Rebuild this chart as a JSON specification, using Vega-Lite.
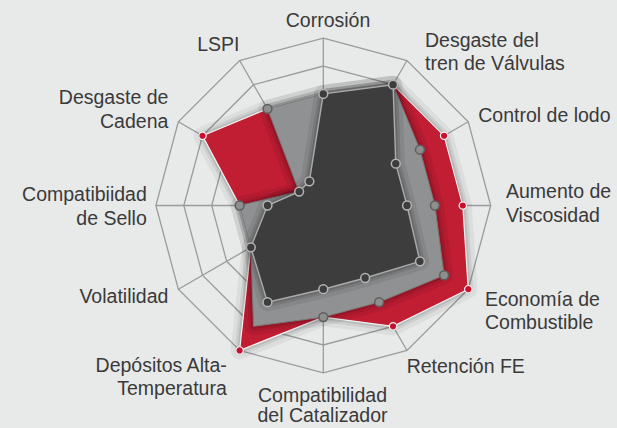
{
  "$schema": "https://vega.github.io/schema/vega-lite/v6.json",
  "width": 617,
  "height": 428,
  "autosize": {"type": "none"},
  "padding": 0,
  "background": "#e8e9e9",
  "config": {"view": {"stroke": null}},
  "datasets": {
    "axes": [
      {"i": 0, "axis": "Corrosión", "label": "Corrosión"},
      {"i": 1, "axis": "Desgaste del tren de Válvulas", "label": "Desgaste del\ntren de Válvulas"},
      {"i": 2, "axis": "Control de lodo", "label": "Control de lodo"},
      {"i": 3, "axis": "Aumento de Viscosidad", "label": "Aumento de\nViscosidad"},
      {"i": 4, "axis": "Economía de Combustible", "label": "Economía de\nCombustible"},
      {"i": 5, "axis": "Retención FE", "label": "Retención FE"},
      {"i": 6, "axis": "Compatibilidad del Catalizador", "label": "Compatibilidad\ndel Catalizador"},
      {"i": 7, "axis": "Depósitos Alta-Temperatura", "label": "Depósitos Alta-\nTemperatura"},
      {"i": 8, "axis": "Volatilidad", "label": "Volatilidad"},
      {"i": 9, "axis": "Compatibiidad de Sello", "label": "Compatibiidad\nde Sello"},
      {"i": 10, "axis": "Desgaste de Cadena", "label": "Desgaste de\nCadena"},
      {"i": 11, "axis": "LSPI", "label": "LSPI"}
    ],
    "rings": [
      {"ring": 1, "i": [0,1,2,3,4,5,6,7,8,9,10,11]},
      {"ring": 2, "i": [0,1,2,3,4,5,6,7,8,9,10,11]},
      {"ring": 3, "i": [0,1,2,3,4,5,6,7,8,9,10,11]},
      {"ring": 4, "i": [0,1,2,3,4,5,6,7,8,9,10,11]},
      {"ring": 5, "i": [0,1,2,3,4,5,6,7,8,9,10,11]},
      {"ring": 6, "i": [0,1,2,3,4,5,6,7,8,9,10,11]}
    ],
    "scores": [
      {"serie": "A", "i": 0, "value": 4}, {"serie": "A", "i": 1, "value": 5}, {"serie": "A", "i": 2, "value": 5},
      {"serie": "A", "i": 3, "value": 5}, {"serie": "A", "i": 4, "value": 6}, {"serie": "A", "i": 5, "value": 5},
      {"serie": "A", "i": 6, "value": 4}, {"serie": "A", "i": 7, "value": 6}, {"serie": "A", "i": 8, "value": 3},
      {"serie": "A", "i": 9, "value": 3}, {"serie": "A", "i": 10, "value": 5}, {"serie": "A", "i": 11, "value": 4},
      {"serie": "B", "i": 0, "value": 4}, {"serie": "B", "i": 1, "value": 5}, {"serie": "B", "i": 2, "value": 4},
      {"serie": "B", "i": 3, "value": 4}, {"serie": "B", "i": 4, "value": 5}, {"serie": "B", "i": 5, "value": 4},
      {"serie": "B", "i": 6, "value": 4}, {"serie": "B", "i": 7, "value": 5}, {"serie": "B", "i": 8, "value": 3},
      {"serie": "B", "i": 9, "value": 3}, {"serie": "B", "i": 10, "value": 1}, {"serie": "B", "i": 11, "value": 4},
      {"serie": "C", "i": 0, "value": 4}, {"serie": "C", "i": 1, "value": 5}, {"serie": "C", "i": 2, "value": 3},
      {"serie": "C", "i": 3, "value": 3}, {"serie": "C", "i": 4, "value": 4}, {"serie": "C", "i": 5, "value": 3},
      {"serie": "C", "i": 6, "value": 3}, {"serie": "C", "i": 7, "value": 4}, {"serie": "C", "i": 8, "value": 3},
      {"serie": "C", "i": 9, "value": 2}, {"serie": "C", "i": 10, "value": 1}, {"serie": "C", "i": 11, "value": 1}
    ]
  },
  "encoding": {
    "x": {"field": "x", "type": "quantitative", "scale": {"domain": [-11.588, 10.527], "nice": false, "zero": false}, "axis": null},
    "y": {"field": "y", "type": "quantitative", "scale": {"domain": [-7.975, 7.366], "nice": false, "zero": false}, "axis": null}
  },
  "layer": [
    {
      "data": {"name": "axes"},
      "transform": [
        {"calculate": "0", "as": "x"}, {"calculate": "0", "as": "y"},
        {"calculate": "6*sin(datum.i*PI/6)", "as": "x2"}, {"calculate": "6*cos(datum.i*PI/6)", "as": "y2"}
      ],
      "mark": {"type": "rule", "stroke": "#9b9b9b", "strokeWidth": 1.3},
      "encoding": {"x2": {"field": "x2"}, "y2": {"field": "y2"}}
    },
    {
      "data": {"name": "rings"},
      "transform": [
        {"flatten": ["i"]},
        {"calculate": "datum.ring*sin(datum.i*PI/6)", "as": "x"}, {"calculate": "datum.ring*cos(datum.i*PI/6)", "as": "y"}
      ],
      "mark": {"type": "line", "interpolate": "linear-closed", "stroke": "#9b9b9b", "strokeWidth": 1.3},
      "encoding": {"detail": {"field": "ring"}, "order": {"field": "i", "type": "quantitative"}}
    },
    {
      "data": {"name": "scores"},
      "transform": [
        {"filter": "datum.serie == 'A'"},
        {"calculate": "datum.value*sin(datum.i*PI/6)", "as": "x"}, {"calculate": "datum.value*cos(datum.i*PI/6)", "as": "y"}
      ],
      "layer": [
        {"mark": {"type": "line", "interpolate": "linear-closed", "stroke": "#000", "strokeOpacity": 0.05, "strokeWidth": 18, "strokeJoin": "round"}},
        {"mark": {"type": "line", "interpolate": "linear-closed", "stroke": "#000", "strokeOpacity": 0.07, "strokeWidth": 10, "strokeJoin": "round"}},
        {"mark": {"type": "line", "interpolate": "linear-closed", "stroke": "#000", "strokeOpacity": 0.09, "strokeWidth": 5, "strokeJoin": "round"}},
        {"mark": {"type": "line", "interpolate": "linear-closed", "fill": "#c11d33", "stroke": "#f2f2f2", "strokeWidth": 1.2}}
      ],
      "encoding": {"order": {"field": "i", "type": "quantitative"}}
    },
    {
      "data": {"name": "scores"},
      "transform": [
        {"filter": "datum.serie == 'B'"},
        {"calculate": "datum.value*sin(datum.i*PI/6)", "as": "x"}, {"calculate": "datum.value*cos(datum.i*PI/6)", "as": "y"}
      ],
      "layer": [
        {"mark": {"type": "line", "interpolate": "linear-closed", "stroke": "#000", "strokeOpacity": 0.06, "strokeWidth": 18, "strokeJoin": "round"}},
        {"mark": {"type": "line", "interpolate": "linear-closed", "stroke": "#000", "strokeOpacity": 0.08, "strokeWidth": 10, "strokeJoin": "round"}},
        {"mark": {"type": "line", "interpolate": "linear-closed", "stroke": "#000", "strokeOpacity": 0.1, "strokeWidth": 5, "strokeJoin": "round"}},
        {"mark": {"type": "line", "interpolate": "linear-closed", "fill": "#909192", "stroke": "#7a7a7a", "strokeWidth": 1}}
      ],
      "encoding": {"order": {"field": "i", "type": "quantitative"}}
    },
    {
      "data": {"name": "scores"},
      "transform": [
        {"filter": "datum.serie == 'C'"},
        {"calculate": "datum.value*sin(datum.i*PI/6)", "as": "x"}, {"calculate": "datum.value*cos(datum.i*PI/6)", "as": "y"}
      ],
      "layer": [
        {"mark": {"type": "line", "interpolate": "linear-closed", "stroke": "#000", "strokeOpacity": 0.07, "strokeWidth": 18, "strokeJoin": "round"}},
        {"mark": {"type": "line", "interpolate": "linear-closed", "stroke": "#000", "strokeOpacity": 0.1, "strokeWidth": 10, "strokeJoin": "round"}},
        {"mark": {"type": "line", "interpolate": "linear-closed", "stroke": "#000", "strokeOpacity": 0.12, "strokeWidth": 5, "strokeJoin": "round"}},
        {"mark": {"type": "line", "interpolate": "linear-closed", "fill": "#3d3d3d", "stroke": "#ababab", "strokeWidth": 1.4}}
      ],
      "encoding": {"order": {"field": "i", "type": "quantitative"}}
    },
    {
      "data": {"name": "scores"},
      "transform": [
        {"filter": "datum.serie == 'A' && indexof([2,3,4,5,7,10], datum.i) >= 0"},
        {"calculate": "datum.value*sin(datum.i*PI/6)", "as": "x"}, {"calculate": "datum.value*cos(datum.i*PI/6)", "as": "y"}
      ],
      "mark": {"type": "point", "shape": "circle", "filled": true, "fill": "#c8102e", "stroke": "#f4f4f4", "strokeWidth": 1.2, "size": 55, "opacity": 1}
    },
    {
      "data": {"name": "scores"},
      "transform": [
        {"filter": "datum.serie == 'B' && indexof([2,3,4,5,6,9,11], datum.i) >= 0"},
        {"calculate": "datum.value*sin(datum.i*PI/6)", "as": "x"}, {"calculate": "datum.value*cos(datum.i*PI/6)", "as": "y"}
      ],
      "mark": {"type": "point", "shape": "circle", "filled": true, "fill": "#8e8e8e", "stroke": "#5e5e5e", "strokeWidth": 1.5, "size": 78, "opacity": 1}
    },
    {
      "data": {"name": "scores"},
      "transform": [
        {"filter": "datum.serie == 'C'"},
        {"calculate": "datum.value*sin(datum.i*PI/6)", "as": "x"}, {"calculate": "datum.value*cos(datum.i*PI/6)", "as": "y"}
      ],
      "mark": {"type": "point", "shape": "circle", "filled": true, "fill": "#3d3d3d", "stroke": "#b4b4b4", "strokeWidth": 1.5, "size": 78, "opacity": 1}
    },
    {
      "data": {"name": "axes"},
      "transform": [
        {"calculate": "6.5*sin(datum.i*PI/6)", "as": "x"}, {"calculate": "6.5*cos(datum.i*PI/6)", "as": "y"}
      ],
      "encoding": {"text": {"field": "label"}},
      "layer": [
        {"transform": [{"filter": "datum.i == 0"}], "mark": {"type": "text", "align": "center", "baseline": "alphabetic", "dx": 4.7, "dy": 3.2, "font": "Liberation Sans", "fontSize": 19.5, "fill": "#3a3a3a", "lineBreak": "\n", "lineHeight": 23.5}},
        {"transform": [{"filter": "datum.i == 1"}], "mark": {"type": "text", "align": "left", "baseline": "alphabetic", "dx": 11, "dy": -1.7, "font": "Liberation Sans", "fontSize": 19.5, "fill": "#3a3a3a", "lineBreak": "\n", "lineHeight": 23.5}},
        {"transform": [{"filter": "datum.i == 2"}], "mark": {"type": "text", "align": "left", "baseline": "alphabetic", "dx": -2.1, "dy": 6.9, "font": "Liberation Sans", "fontSize": 19.5, "fill": "#3a3a3a", "lineBreak": "\n", "lineHeight": 23.5}},
        {"transform": [{"filter": "datum.i == 3"}], "mark": {"type": "text", "align": "left", "baseline": "alphabetic", "dx": 1.3, "dy": -7.2, "font": "Liberation Sans", "fontSize": 19.5, "fill": "#3a3a3a", "lineBreak": "\n", "lineHeight": 24}},
        {"transform": [{"filter": "datum.i == 4"}], "mark": {"type": "text", "align": "left", "baseline": "alphabetic", "dx": 4.6, "dy": 9.8, "font": "Liberation Sans", "fontSize": 19.5, "fill": "#3a3a3a", "lineBreak": "\n", "lineHeight": 23.5}},
        {"transform": [{"filter": "datum.i == 5"}], "mark": {"type": "text", "align": "left", "baseline": "alphabetic", "dx": -7.3, "dy": 10.7, "font": "Liberation Sans", "fontSize": 19.5, "fill": "#3a3a3a", "lineBreak": "\n", "lineHeight": 23.5}},
        {"transform": [{"filter": "datum.i == 6"}], "mark": {"type": "text", "align": "center", "baseline": "alphabetic", "dx": -0.8, "dy": 14.8, "font": "Liberation Sans", "fontSize": 19.5, "fill": "#3a3a3a", "lineBreak": "\n", "lineHeight": 20.5}},
        {"transform": [{"filter": "datum.i == 7"}], "mark": {"type": "text", "align": "right", "baseline": "alphabetic", "dx": -5.9, "dy": 9.1, "font": "Liberation Sans", "fontSize": 19.5, "fill": "#3a3a3a", "lineBreak": "\n", "lineHeight": 23.5}},
        {"transform": [{"filter": "datum.i == 8"}], "mark": {"type": "text", "align": "right", "baseline": "alphabetic", "dx": 2.1, "dy": 6.5, "font": "Liberation Sans", "fontSize": 19.5, "fill": "#3a3a3a", "lineBreak": "\n", "lineHeight": 23.5}},
        {"transform": [{"filter": "datum.i == 9"}], "mark": {"type": "text", "align": "right", "baseline": "alphabetic", "dx": 4.8, "dy": -4.5, "font": "Liberation Sans", "fontSize": 19.5, "fill": "#3a3a3a", "lineBreak": "\n", "lineHeight": 23.5}},
        {"transform": [{"filter": "datum.i == 10"}], "mark": {"type": "text", "align": "right", "baseline": "alphabetic", "dx": 2.1, "dy": -10.8, "font": "Liberation Sans", "fontSize": 19.5, "fill": "#3a3a3a", "lineBreak": "\n", "lineHeight": 23.5}},
        {"transform": [{"filter": "datum.i == 11"}], "mark": {"type": "text", "align": "center", "baseline": "alphabetic", "dx": -14.3, "dy": 2.3, "font": "Liberation Sans", "fontSize": 19.5, "fill": "#3a3a3a", "lineBreak": "\n", "lineHeight": 23.5}}
      ]
    }
  ]
}
